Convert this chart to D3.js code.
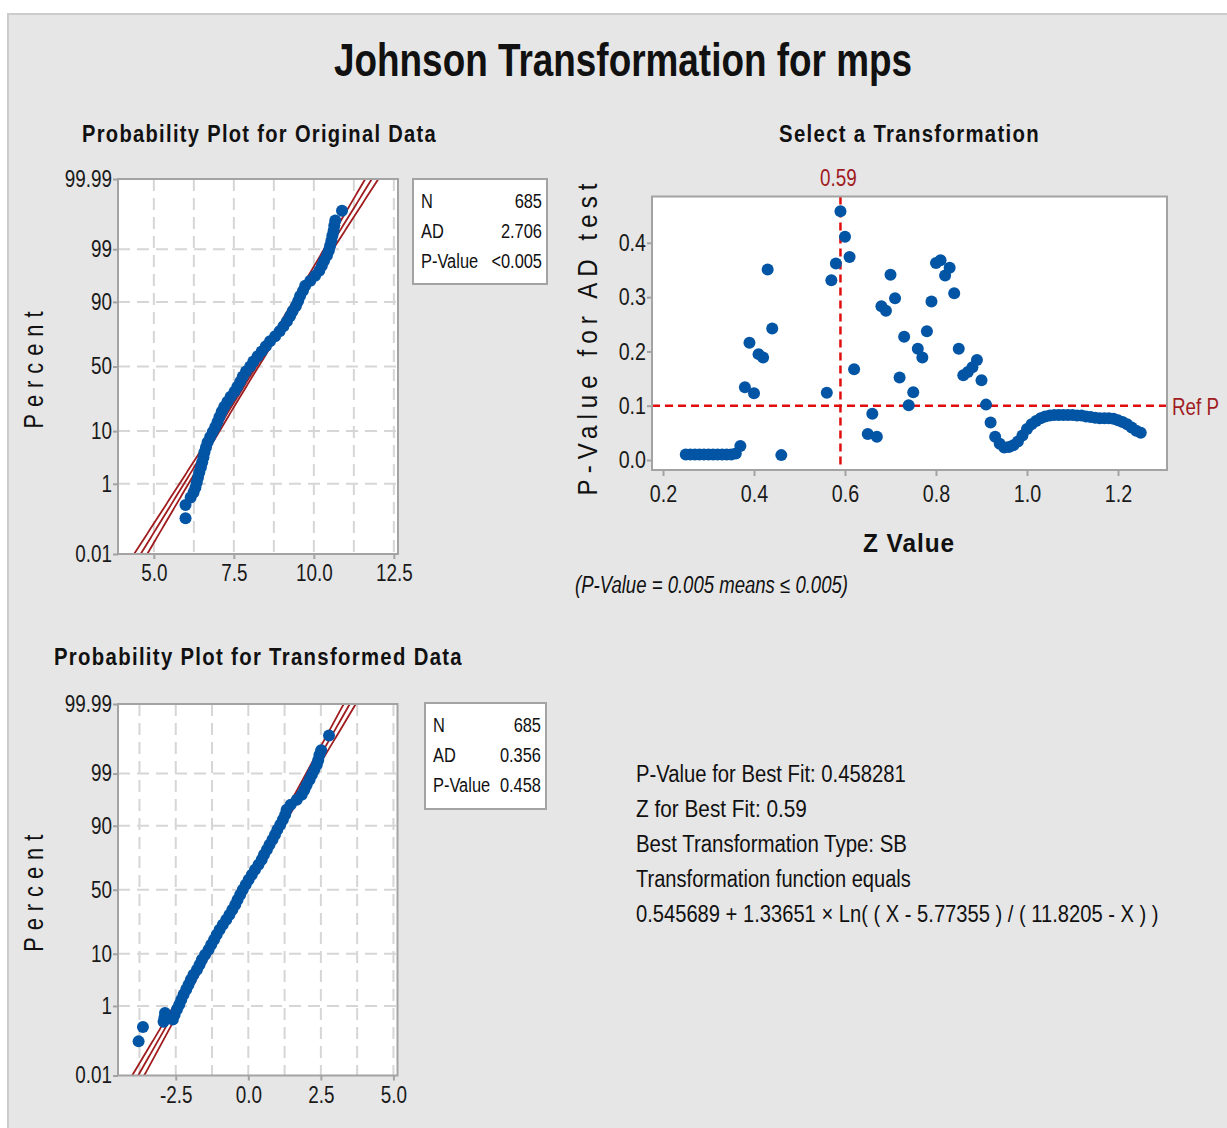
<!DOCTYPE html>
<html lang="en">
<head>
<meta charset="UTF-8">
<title>Johnson Transformation for mps</title>
<script src="https://d3js.org/d3.v7.min.js"></script>
<style>
    html, body { margin: 0; padding: 0; background: #ffffff; }
    svg { display: block; }
    text { font-family: "Liberation Sans Narrow", "Arial Narrow", "Liberation Sans", Arial, sans-serif; }
</style>
</head>
<body>
<div id="chart"></div>
<script>
// ---- values ----
const pctTicks = [0.01, 1, 10, 50, 90, 99, 99.99];
const pctLabels = ['0.01', '1', '10', '50', '90', '99', '99.99'];
const pctGrid = [1, 10, 50, 90, 99];

// probability plot, original data (mps value, percent)
const origValues = [10.88, 10.67, 10.64, 10.62, 10.58, 10.55, 10.51, 10.47, 10.41, 10.32,
    10.25, 10.17, 10.04, 9.89, 9.73, 9.66, 9.57, 9.51, 9.44, 9.34,
    9.26, 9.16, 9.05, 8.93, 8.79, 8.63, 8.50, 8.37, 8.24, 8.11,
    8.01, 7.88, 7.78, 7.70, 7.61, 7.52, 7.40, 7.30, 7.20, 7.12,
    7.05, 6.99, 6.92, 6.84, 6.76, 6.68, 6.63, 6.58, 6.55, 6.51,
    6.47, 6.42, 6.38, 6.34, 6.30, 6.24, 6.15, 5.99, 5.99];
const origPercents = [99.90, 99.81, 99.74, 99.65, 99.53, 99.38, 99.18, 98.93, 98.61, 98.21,
    97.72, 97.13, 96.41, 95.54, 94.52, 93.32, 91.92, 90.32, 88.49, 86.43,
    84.13, 81.59, 78.81, 75.80, 72.57, 69.15, 65.54, 61.79, 57.93, 53.98,
    50.00, 46.02, 42.07, 38.21, 34.46, 30.85, 27.43, 24.20, 21.19, 18.41,
    15.87, 13.57, 11.51, 9.68, 8.08, 6.68, 5.48, 4.46, 3.59, 2.87,
    2.28, 1.79, 1.39, 1.07, 0.82, 0.62, 0.47, 0.30, 0.13];

// probability plot, transformed data
const transValues = [2.78, 2.51, 2.45, 2.41, 2.36, 2.27, 2.19, 2.11, 2.01, 1.93,
    1.84, 1.67, 1.46, 1.32, 1.27, 1.19, 1.10, 1.00, 0.92, 0.83,
    0.73, 0.64, 0.54, 0.46, 0.35, 0.23, 0.12, 0.01, -0.09, -0.19,
    -0.28, -0.37, -0.45, -0.55, -0.65, -0.76, -0.88, -0.99, -1.09, -1.18,
    -1.28, -1.37, -1.49, -1.60, -1.68, -1.77, -1.89, -1.98, -2.06, -2.14,
    -2.23, -2.31, -2.38, -2.46, -2.54, -2.60, -2.87, -2.89, -2.92, -3.63, -3.78];
const transPercents = [99.90, 99.74, 99.65, 99.53, 99.38, 99.18, 98.93, 98.61, 98.21, 97.72,
    97.13, 96.41, 95.54, 94.52, 93.32, 91.92, 90.32, 88.49, 86.43, 84.13,
    81.59, 78.81, 75.80, 72.57, 69.15, 65.54, 61.79, 57.93, 53.98, 50.00,
    46.02, 42.07, 38.21, 34.46, 30.85, 27.43, 24.20, 21.19, 18.41, 15.87,
    13.57, 11.51, 9.68, 8.08, 6.68, 5.48, 4.46, 3.59, 2.87, 2.28,
    1.79, 1.39, 1.07, 0.82, 0.62, 0.47, 0.68, 0.52, 0.41, 0.30, 0.12];

const origStats = [['N', '685'], ['AD', '2.706'], ['P-Value', '<0.005']];
const transStats = [['N', '685'], ['AD', '0.356'], ['P-Value', '0.458']];
const origFit = { mean: 8.20, sd: 0.971, n: 685 };
const transFit = { mean: -0.15, sd: 0.98, n: 685 };
const origXTicks = [5.0, 7.5, 10.0, 12.5];
const transXTicks = [-2.5, 0.0, 2.5, 5.0];

// select a transformation: Z value vs AD p-value
const zValues = [0.25, 0.26, 0.27, 0.28, 0.29, 0.30, 0.31, 0.32, 0.33, 0.34,
    0.35, 0.36, 0.37, 0.38, 0.39, 0.40, 0.41, 0.42, 0.43, 0.44,
    0.46, 0.56, 0.57, 0.58, 0.59, 0.60, 0.61, 0.62, 0.65, 0.66,
    0.67, 0.68, 0.69, 0.70, 0.71, 0.72, 0.73, 0.74, 0.75, 0.76,
    0.77, 0.78, 0.79, 0.80, 0.81, 0.82, 0.83, 0.84, 0.85, 0.86,
    0.87, 0.88, 0.89, 0.90, 0.91, 0.92, 0.93, 0.94, 0.95, 0.96,
    0.97, 0.98, 0.99, 1.00, 1.01, 1.02, 1.03, 1.04, 1.05, 1.06,
    1.07, 1.08, 1.09, 1.10, 1.11, 1.12, 1.13, 1.14, 1.15, 1.16,
    1.17, 1.18, 1.19, 1.20, 1.21, 1.22, 1.23, 1.24, 1.25];
const pValues = [0.010, 0.010, 0.010, 0.010, 0.010, 0.010, 0.010, 0.010, 0.010, 0.010,
    0.010, 0.012, 0.026, 0.134, 0.216, 0.123, 0.195, 0.189, 0.351, 0.242,
    0.009, 0.124, 0.331, 0.362, 0.458, 0.411, 0.374, 0.167, 0.048, 0.085,
    0.043, 0.283, 0.275, 0.341, 0.298, 0.152, 0.227, 0.101, 0.125, 0.205,
    0.189, 0.237, 0.292, 0.363, 0.368, 0.340, 0.354, 0.307, 0.205, 0.156,
    0.162, 0.171, 0.184, 0.147, 0.102, 0.069, 0.043, 0.030, 0.023, 0.024,
    0.027, 0.034, 0.045, 0.057, 0.066, 0.072, 0.077, 0.080, 0.082, 0.083,
    0.083, 0.083, 0.083, 0.083, 0.082, 0.082, 0.080, 0.079, 0.078, 0.077,
    0.077, 0.077, 0.076, 0.073, 0.070, 0.066, 0.060, 0.054, 0.050];
const bestZ = 0.59;
const refP = 0.1;
const zTicks = [0.2, 0.4, 0.6, 0.8, 1.0, 1.2];
const pTicks = [0.0, 0.1, 0.2, 0.3, 0.4];

const infoLines = [
    'P-Value for Best Fit: 0.458281',
    'Z for Best Fit: 0.59',
    'Best Transformation Type: SB',
    'Transformation function equals',
    '0.545689 + 1.33651 \u00d7 Ln( ( X - 5.77355 ) / ( 11.8205 - X ) )'
];
const infoWidths = [270, 171, 271, 275, 523];

// ---- styling ----
const blue = '#0254a4';
const darkRed = '#a01c1f';
const refRed = '#e00d0d';
const frameGrey = '#a3a3a3';
const gridGrey = '#d6d6d6';
const squeeze = 0.82;   // no narrow face installed: condense the regular one
const fmt1 = d => d.toFixed(1);

// inverse normal cdf (Acklam), used for the normal probability axis
function probit(p) {
    const a = [-3.969683028665376e+01, 2.209460984245205e+02, -2.759285104469687e+02, 1.383577518672690e+02, -3.066479806614716e+01, 2.506628277459239e+00];
    const b = [-5.447609879822406e+01, 1.615858368580409e+02, -1.556989798598866e+02, 6.680131188771972e+01, -1.328068155288572e+01];
    const c = [-7.784894002430293e-03, -3.223964580411365e-01, -2.400758277161838e+00, -2.549671010233443e+00, 4.374664141464968e+00, 2.938163982698783e+00];
    const d = [7.784695709041462e-03, 3.224671290700398e-01, 2.445134137142996e+00, 3.754408661907416e+00];
    const plow = 0.02425;
    let q, r;
    if (p < plow) {
        q = Math.sqrt(-2 * Math.log(p));
        return (((((c[0]*q+c[1])*q+c[2])*q+c[3])*q+c[4])*q+c[5]) / ((((d[0]*q+d[1])*q+d[2])*q+d[3])*q+1);
    }
    if (p > 1 - plow) {
        q = Math.sqrt(-2 * Math.log(1 - p));
        return -(((((c[0]*q+c[1])*q+c[2])*q+c[3])*q+c[4])*q+c[5]) / ((((d[0]*q+d[1])*q+d[2])*q+d[3])*q+1);
    }
    q = p - 0.5; r = q * q;
    return (((((a[0]*r+a[1])*r+a[2])*r+a[3])*r+a[4])*r+a[5])*q / (((((b[0]*r+b[1])*r+b[2])*r+b[3])*r+b[4])*r+1);
}

const width = 1227, height = 1128;
const svg = d3.select('#chart').append('svg').attr('width', width).attr('height', height);

svg.append('rect')
    .attr('x', 8).attr('y', 14)
    .attr('width', width).attr('height', height)
    .attr('fill', '#e6e6e6')
    .attr('stroke', '#cccccc').attr('stroke-width', 2);

function narrow(sel) {
    sel.each(function () {
        const w = this.getComputedTextLength();
        d3.select(this).attr('textLength', w * squeeze).attr('lengthAdjust', 'spacingAndGlyphs');
    });
}

function label(txt, x, y, o = {}) {
    const t = svg.append('text')
        .attr('x', x).attr('y', y)
        .attr('text-anchor', o.anchor || 'start')
        .attr('font-size', o.size || 22)
        .attr('font-weight', o.weight || 'normal')
        .attr('font-style', o.style || 'normal')
        .attr('fill', o.fill || '#111')
        .text(txt);
    if (o.spacing) t.attr('letter-spacing', o.spacing);
    if (o.len) t.attr('textLength', o.len).attr('lengthAdjust', 'spacingAndGlyphs');
    else narrow(t);
    if (o.rotate) t.attr('transform', `rotate(-90,${x},${y})`);
    return t;
}

// left-anchored text squeezed with a transform to a given width
function scaledLabel(txt, x, y, w, o = {}) {
    const t = svg.append('text')
        .attr('x', 0).attr('y', 0)
        .attr('font-size', o.size || 22)
        .attr('fill', o.fill || '#111')
        .text(txt);
    const natural = t.node().getComputedTextLength();
    t.attr('transform', `translate(${x},${y}) scale(${w / natural},1)`);
    return t;
}

function styleAxis(sel, size) {
    sel.select('.domain').remove();
    sel.selectAll('.tick line').attr('stroke', frameGrey).attr('stroke-width', 2);
    sel.selectAll('.tick text').attr('font-size', size).attr('fill', '#1a1a1a').call(narrow);
}

// ---- titles ----
label('Johnson Transformation for mps', 623, 76, { anchor: 'middle', size: 46, weight: 'bold', len: 578 });
label('Probability Plot for Original Data', 259.5, 142, { anchor: 'middle', size: 23, weight: 'bold', len: 355, spacing: 1.5 });
label('Select a Transformation', 909.5, 142, { anchor: 'middle', size: 23, weight: 'bold', len: 261, spacing: 1.5 });
label('Probability Plot for Transformed Data', 258.5, 665, { anchor: 'middle', size: 23, weight: 'bold', len: 409, spacing: 1.5 });

// ---- probability plots ----
let clipId = 0;
function probPlot(o) {
    const x = d3.scaleLinear().domain(o.xDomain).range([o.left, o.right]);
    const y = d3.scaleLinear().domain([probit(0.0001), probit(0.9999)]).range([o.bottom, o.top]);
    const py = p => y(probit(p / 100));
    const g = svg.append('g');
    const id = 'clip' + (clipId++);

    g.append('clipPath').attr('id', id).append('rect')
        .attr('x', o.left).attr('y', o.top)
        .attr('width', o.right - o.left).attr('height', o.bottom - o.top);

    g.append('rect')
        .attr('x', o.left).attr('y', o.top)
        .attr('width', o.right - o.left).attr('height', o.bottom - o.top)
        .attr('fill', '#ffffff');

    const grid = g.append('g').attr('stroke', gridGrey).attr('stroke-width', 2).attr('stroke-dasharray', '12,7');
    const xGrid = d3.range(Math.ceil(o.xDomain[0] / 1.25) * 1.25, o.xDomain[1], 1.25);
    grid.selectAll('.vg').data(xGrid).join('line')
        .attr('x1', d => x(d)).attr('x2', d => x(d))
        .attr('y1', o.top).attr('y2', o.bottom);
    grid.selectAll('.hg').data(pctGrid).join('line')
        .attr('x1', o.left).attr('x2', o.right)
        .attr('y1', d => py(d)).attr('y2', d => py(d));

    // fitted normal line with confidence band
    const zs = d3.range(-3.9, 3.91, 0.05);
    const half = z => 1.96 * o.fit.sd * Math.sqrt(1 / o.fit.n + z * z / (2 * (o.fit.n - 1)));
    const fitLine = k => d3.line()
        .x(z => x(o.fit.mean + z * o.fit.sd + k * half(z)))
        .y(z => y(z));
    const bands = g.append('g').attr('clip-path', `url(#${id})`);
    [-1, 0, 1].forEach(k => {
        bands.append('path').datum(zs)
            .attr('d', fitLine(k))
            .attr('fill', 'none').attr('stroke', darkRed).attr('stroke-width', 1.8);
    });

    g.append('g').selectAll('circle')
        .data(d3.zip(o.values, o.percents))
        .join('circle')
        .attr('cx', d => x(d[0])).attr('cy', d => py(d[1]))
        .attr('r', 6).attr('fill', blue);

    g.append('rect')
        .attr('x', o.left).attr('y', o.top)
        .attr('width', o.right - o.left).attr('height', o.bottom - o.top)
        .attr('fill', 'none').attr('stroke', frameGrey).attr('stroke-width', 2);

    g.append('g').attr('transform', `translate(0,${o.bottom})`)
        .call(d3.axisBottom(x).tickValues(o.xTicks).tickFormat(fmt1).tickSize(5).tickPadding(6))
        .call(s => styleAxis(s, 23));
    g.append('g').attr('transform', `translate(${o.left},0)`)
        .call(d3.axisLeft(y).tickValues(pctTicks.map(p => probit(p / 100))).tickFormat((d, i) => pctLabels[i]).tickSize(5).tickPadding(1))
        .call(s => styleAxis(s, 23));

    // stats box
    const b = o.box;
    g.append('rect')
        .attr('x', b.x).attr('y', b.y).attr('width', b.w).attr('height', b.h)
        .attr('fill', '#ffffff').attr('stroke', frameGrey).attr('stroke-width', 2);
    o.stats.forEach((s, i) => {
        label(s[0], b.x + 8, b.y + 29 + i * 30, { size: 20 });
        label(s[1], b.x + b.w - 5, b.y + 29 + i * 30, { size: 20, anchor: 'end' });
    });

    label('Percent', 43, (o.top + o.bottom) / 2, { anchor: 'middle', size: 28, len: 124, spacing: 9, rotate: true });
}

probPlot({
    left: 118, right: 398, top: 179, bottom: 554,
    xDomain: [3.88, 12.63],
    values: origValues, percents: origPercents, fit: origFit,
    xTicks: origXTicks, stats: origStats,
    box: { x: 413, y: 179, w: 134, h: 105 }
});

probPlot({
    left: 118, right: 397.5, top: 704, bottom: 1075.5,
    xDomain: [-4.49, 5.14],
    values: transValues, percents: transPercents, fit: transFit,
    xTicks: transXTicks, stats: transStats,
    box: { x: 425, y: 703, w: 121, h: 106 }
});

// ---- select a transformation ----
const sel = { left: 652, right: 1167, top: 196.5, bottom: 470 };
const zx = d3.scaleLinear().domain([0.1758, 1.3077]).range([sel.left, sel.right]);
const py = d3.scaleLinear().domain([-0.0184, 0.4853]).range([sel.bottom, sel.top]);
const sg = svg.append('g');

sg.append('rect')
    .attr('x', sel.left).attr('y', sel.top)
    .attr('width', sel.right - sel.left).attr('height', sel.bottom - sel.top)
    .attr('fill', '#ffffff');

sg.append('line')
    .attr('x1', zx(bestZ)).attr('x2', zx(bestZ))
    .attr('y1', sel.top).attr('y2', sel.bottom)
    .attr('stroke', refRed).attr('stroke-width', 2.5).attr('stroke-dasharray', '8,5');
sg.append('line')
    .attr('x1', sel.left).attr('x2', sel.right + 3)
    .attr('y1', py(refP)).attr('y2', py(refP))
    .attr('stroke', refRed).attr('stroke-width', 2.5).attr('stroke-dasharray', '8,5');

sg.append('g').selectAll('circle')
    .data(d3.zip(zValues, pValues))
    .join('circle')
    .attr('cx', d => zx(d[0])).attr('cy', d => py(d[1]))
    .attr('r', 6).attr('fill', blue);

sg.append('rect')
    .attr('x', sel.left).attr('y', sel.top)
    .attr('width', sel.right - sel.left).attr('height', sel.bottom - sel.top)
    .attr('fill', 'none').attr('stroke', frameGrey).attr('stroke-width', 2);

sg.append('g').attr('transform', `translate(0,${sel.bottom})`)
    .call(d3.axisBottom(zx).tickValues(zTicks).tickFormat(fmt1).tickSize(6).tickPadding(9))
    .call(s => styleAxis(s, 24));
sg.append('g').attr('transform', `translate(${sel.left},0)`)
    .call(d3.axisLeft(py).tickValues(pTicks).tickFormat(fmt1).tickSize(5).tickPadding(1))
    .call(s => styleAxis(s, 24));

label('0.59', zx(bestZ) - 2, 186, { anchor: 'middle', size: 23, fill: darkRed });
scaledLabel('Ref P', 1172, 415, 47, { size: 23, fill: darkRed });
label('Z Value', 909, 552, { anchor: 'middle', size: 26, weight: 'bold', len: 92, spacing: 1 });
label('P-Value for AD test', 597, 336.5, { anchor: 'middle', size: 28, len: 318, spacing: 7, rotate: true });
label('(P-Value = 0.005 means \u2264 0.005)', 575, 593, { size: 23, style: 'italic', len: 273 });

// ---- best fit summary ----
infoLines.forEach((t, i) => {
    scaledLabel(t, 636, 782 + i * 35, infoWidths[i], { size: 23 });
});
</script>
</body>
</html>
